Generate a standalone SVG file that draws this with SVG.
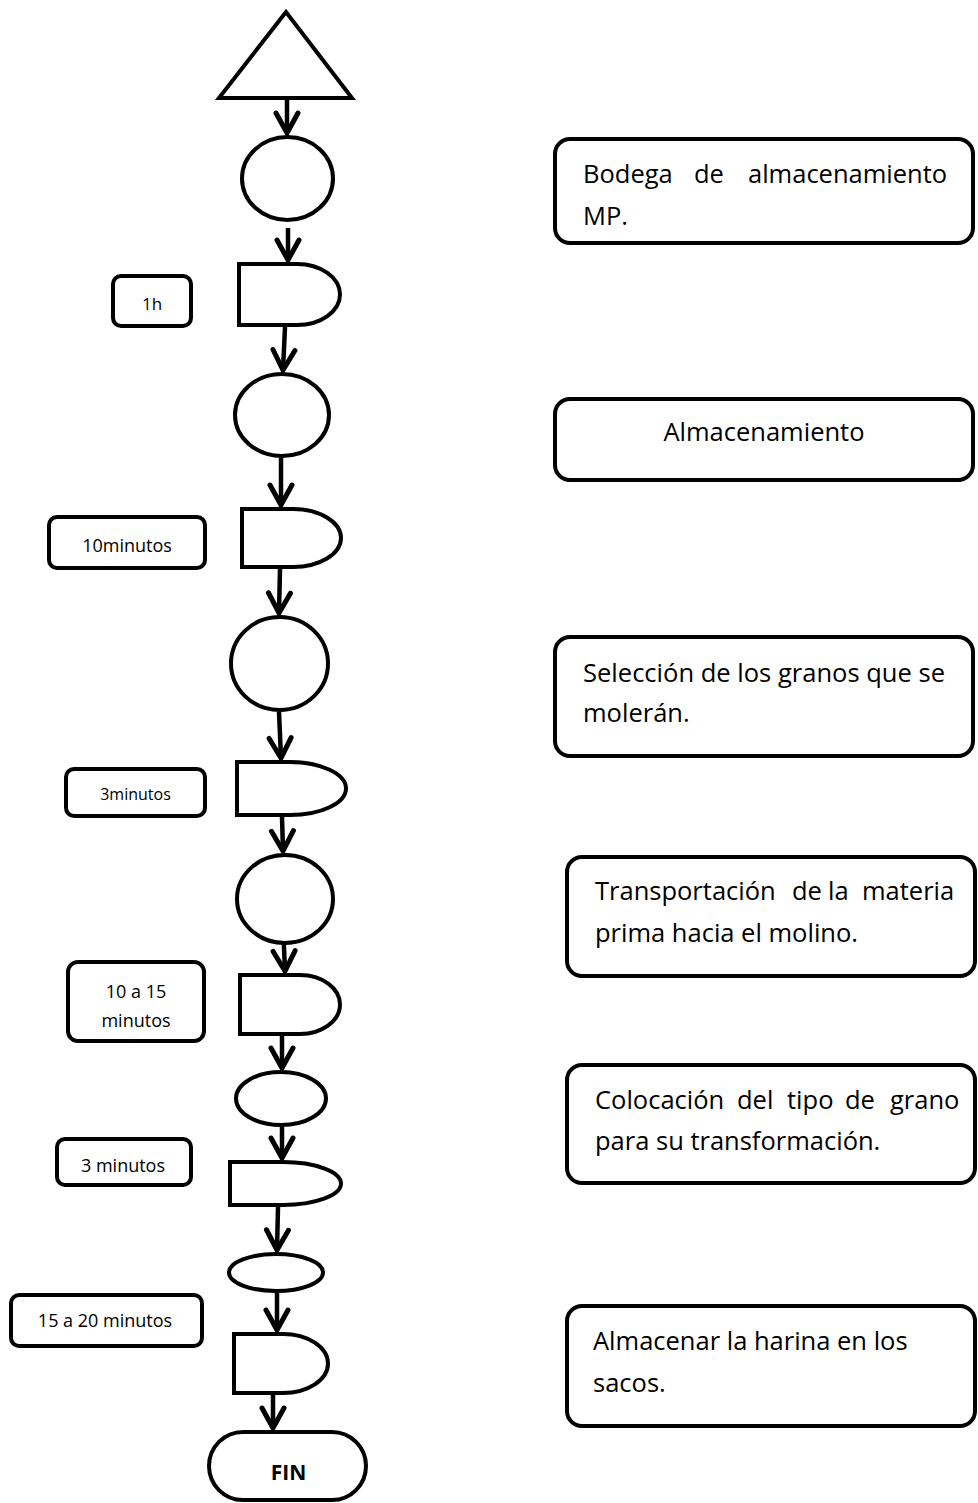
<svg xmlns="http://www.w3.org/2000/svg" width="978" height="1503" viewBox="0 0 978 1503">
<defs>
<style>
.s{fill:#fff;stroke:#000;stroke-width:4}
.c{fill:none;stroke:#000;stroke-width:4.5}
.t{font-family:"Open Sans","Noto Sans","Liberation Sans",sans-serif;font-size:25.5px;fill:#000}
.l{font-family:"Open Sans","Noto Sans","Liberation Sans",sans-serif;font-size:18px;fill:#000;text-anchor:middle}
.f{font-family:"Open Sans","Noto Sans","Liberation Sans",sans-serif;font-size:21px;font-weight:bold;fill:#000;text-anchor:middle}
</style>
<marker id="ah" markerUnits="userSpaceOnUse" markerWidth="30" markerHeight="30" viewBox="0 0 30 30" refX="23" refY="15" orient="auto">
<path d="M3,4 L23,15 L3,26" fill="none" stroke="#000" stroke-width="5" stroke-linejoin="miter" stroke-linecap="round"/>
</marker>
</defs>
<rect width="978" height="1503" fill="#fff"/>

<g id="connectors">
<line class="c" x1="287" y1="100" x2="287" y2="133" marker-end="url(#ah)"/>
<line class="c" x1="288" y1="228" x2="288" y2="260" marker-end="url(#ah)"/>
<line class="c" x1="285" y1="327" x2="283" y2="370" marker-end="url(#ah)"/>
<line class="c" x1="281" y1="458" x2="281" y2="505" marker-end="url(#ah)"/>
<line class="c" x1="280" y1="569" x2="279" y2="613" marker-end="url(#ah)"/>
<line class="c" x1="279" y1="712" x2="281" y2="758" marker-end="url(#ah)"/>
<line class="c" x1="282" y1="817" x2="283" y2="851" marker-end="url(#ah)"/>
<line class="c" x1="283" y1="925" x2="285" y2="971" marker-end="url(#ah)"/>
<line class="c" x1="282" y1="1036" x2="282" y2="1068" marker-end="url(#ah)"/>
<line class="c" x1="282" y1="1118" x2="282" y2="1158" marker-end="url(#ah)"/>
<line class="c" x1="278" y1="1207" x2="277" y2="1250" marker-end="url(#ah)"/>
<line class="c" x1="277" y1="1293" x2="277" y2="1330" marker-end="url(#ah)"/>
<line class="c" x1="273" y1="1395" x2="273" y2="1428" marker-end="url(#ah)"/>
</g>

<g id="start"><polygon class="s" points="286,12 219,98 352,98"/></g>

<g id="op1"><ellipse class="s" cx="287.5" cy="178.5" rx="45.5" ry="41.5"/></g>
<g id="delay1"><path class="s" d="M239,264 H297 A43,30.5 0 0 1 297,325 H239 Z"/></g>
<g id="op2"><ellipse class="s" cx="282" cy="415" rx="47" ry="41"/></g>
<g id="delay2"><path class="s" d="M242,509 H293 A48,29 0 0 1 293,567 H242 Z"/></g>
<g id="op3"><ellipse class="s" cx="279.5" cy="663.5" rx="48.5" ry="46.5"/></g>
<g id="delay3"><path class="s" d="M237,762 H290 A56,26.5 0 0 1 290,815 H237 Z"/></g>
<g id="op4"><ellipse class="s" cx="285" cy="899" rx="48" ry="44"/></g>
<g id="delay4"><path class="s" d="M240,975 H300 A40,29.5 0 0 1 300,1034 H240 Z"/></g>
<g id="op5"><ellipse class="s" cx="281" cy="1098.5" rx="45" ry="26.5"/></g>
<g id="delay5"><path class="s" d="M230,1162 H283 A58,21.5 0 0 1 283,1205 H230 Z"/></g>
<g id="op6"><ellipse class="s" cx="276" cy="1272.5" rx="47" ry="18.5"/></g>
<g id="delay6"><path class="s" d="M234,1334 H283 A45,29.5 0 0 1 283,1393 H234 Z"/></g>
<g id="fin"><rect class="s" x="209" y="1432" width="157" height="68" rx="34"/><text class="f" x="288.5" y="1480">FIN</text></g>

<g id="lab1"><rect class="s" x="113" y="276" width="78" height="50" rx="8"/><text class="l" x="152" y="310" style="font-size:17px">1h</text></g>
<g id="lab2"><rect class="s" x="49" y="517" width="156" height="51" rx="8"/><text class="l" x="127" y="552">10minutos</text></g>
<g id="lab3"><rect class="s" x="66" y="769" width="139" height="47" rx="8"/><text class="l" x="135.5" y="800" style="font-size:16px">3minutos</text></g>
<g id="lab4"><rect class="s" x="68" y="962" width="136" height="79" rx="10"/><text class="l" x="136" y="998">10 a 15</text><text class="l" x="136" y="1027">minutos</text></g>
<g id="lab5"><rect class="s" x="57" y="1139" width="134" height="46" rx="8"/><text class="l" x="123" y="1172">3 minutos</text></g>
<g id="lab6"><rect class="s" x="11" y="1295" width="191" height="51" rx="8"/><text class="l" x="105" y="1327">15 a 20 minutos</text></g>

<g id="desc1"><rect class="s" x="555" y="139" width="418" height="104" rx="15"/>
<text class="t" y="183"><tspan x="583">Bodega</tspan><tspan x="694">de</tspan><tspan x="748">almacenamiento</tspan></text>
<text class="t" x="583" y="225">MP.</text></g>
<g id="desc2"><rect class="s" x="555" y="399" width="418" height="81" rx="15"/>
<text class="t" x="764" y="441" text-anchor="middle">Almacenamiento</text></g>
<g id="desc3"><rect class="s" x="555" y="637" width="418" height="119" rx="15"/>
<text class="t" x="583" y="682" textLength="362" lengthAdjust="spacing">Selección de los granos que se</text>
<text class="t" x="583" y="722">molerán.</text></g>
<g id="desc4"><rect class="s" x="567" y="857" width="408" height="119" rx="15"/>
<text class="t" y="900"><tspan x="595">Transportación</tspan><tspan x="792">de</tspan><tspan x="828">la</tspan><tspan x="862">materia</tspan></text>
<text class="t" x="595" y="942">prima hacia el molino.</text></g>
<g id="desc5"><rect class="s" x="567" y="1065" width="408" height="118" rx="15"/>
<text class="t" y="1109"><tspan x="595">Colocación</tspan><tspan x="737">del</tspan><tspan x="787">tipo</tspan><tspan x="845">de</tspan><tspan x="890">grano</tspan></text>
<text class="t" x="595" y="1150">para su transformación.</text></g>
<g id="desc6"><rect class="s" x="567" y="1306" width="408" height="120" rx="15"/>
<text class="t" x="593" y="1350">Almacenar la harina en los</text>
<text class="t" x="593" y="1392">sacos.</text></g>
</svg>
